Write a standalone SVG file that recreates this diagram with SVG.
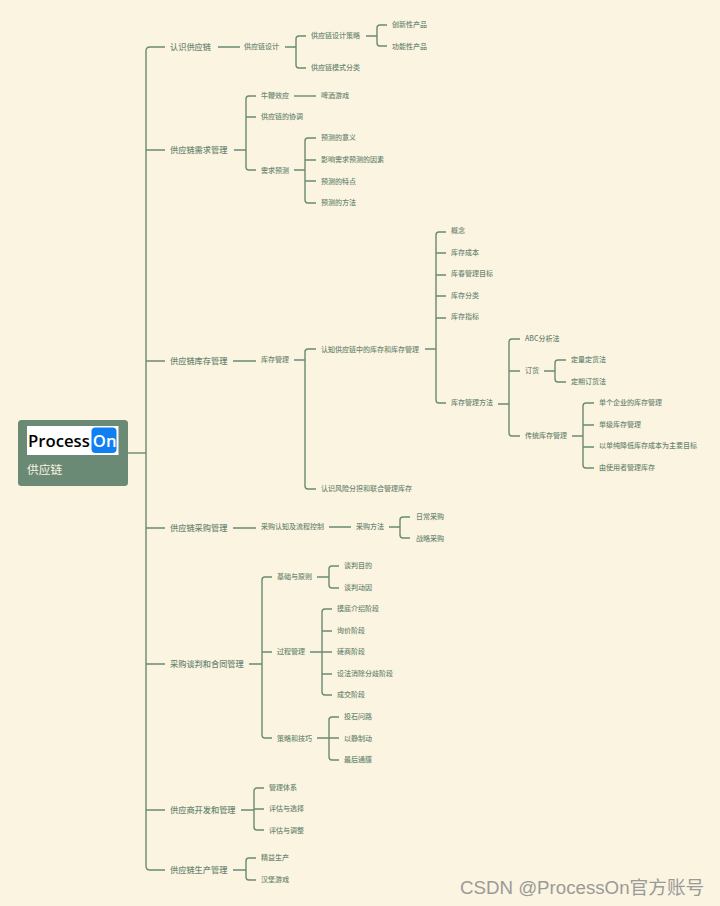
<svg xmlns="http://www.w3.org/2000/svg" width="720" height="906" viewBox="0 0 720 906">
<style>
text{font-family:"Noto Sans CJK SC","Noto Sans",sans-serif;fill:#6c8873;font-weight:500}
.l1{font-size:8.2px}
.l2{font-size:7px}
.c{fill:none;stroke:#6b8a72;stroke-width:1.4}
</style>
<rect width="720" height="906" fill="#fbf4e1"/>
<g id="connectors" class="c">
<path d="M128 453H146"/>
<path d="M165 47H150Q146 47 146 51V866Q146 870 150 870H165"/>
<path d="M146 150H165M146 361H165M146 528H165M146 664H165M146 810H165"/>
<path d="M218 47H240M285 47H296M306 36H299Q296 36 296 39V65Q296 68 299 68H306"/>
<path d="M366 36H377M387 25H380Q377 25 377 28V43Q377 46 380 46H387"/>
<path d="M234 150H246M256 96H249Q246 96 246 99V167Q246 170 249 170H256M246 117H256"/>
<path d="M294 96H316"/>
<path d="M294 170H305M316 138H308Q305 138 305 141V200Q305 203 308 203H316M305 160H316M305 181H316"/>
<path d="M233 361H256M294 360H305M316 349H308Q305 349 305 352V486Q305 489 308 489H316"/>
<path d="M425 349H436M446 232H439Q436 232 436 235V400Q436 403 439 403H446M436 253H446M436 275H446M436 296H446M436 318H446"/>
<path d="M498 404H509M520 339H512Q509 339 509 342V433Q509 436 512 436H520M509 371H520"/>
<path d="M544 371H555M566 360H558Q555 360 555 363V379Q555 382 558 382H566"/>
<path d="M572 436H583M594 403H586Q583 403 583 406V465Q583 468 586 468H594M583 425H594M583 447H594"/>
<path d="M233 528H256M329 527H351M389 527H400M410 517H403Q400 517 400 520V535Q400 538 403 538H410"/>
<path d="M249 664H262M272 577H265Q262 577 262 580V735Q262 738 265 738H272M262 652H272"/>
<path d="M317 577H329M339 566H332Q329 566 329 569V585Q329 588 332 588H339"/>
<path d="M310 652H322M332 609H325Q322 609 322 612V692Q322 695 325 695H332M322 631H332M322 652H332M322 674H332"/>
<path d="M317 738H329M339 717H332Q329 717 329 720V757Q329 760 332 760H339M329 738H339"/>
<path d="M241 810H254M264 788H257Q254 788 254 791V827Q254 830 257 830H264M254 809H264"/>
<path d="M233 870H246M256 858H249Q246 858 246 861V877Q246 880 249 880H256"/>
</g>
<g id="root">
<rect x="18" y="420" width="110" height="66" rx="3.500" fill="#6b8a75"/>
<rect x="27" y="426" width="91.500" height="29" fill="#fff"/>
<rect x="91.500" y="427.500" width="25" height="25.500" rx="4" fill="#0f7ff2"/>
<text x="28" y="447" style="font-family:'Open Sans',sans-serif;font-size:16.700px;font-weight:600;fill:#000">Process</text>
<text x="92.800" y="447" style="font-family:'Open Sans',sans-serif;font-size:16.700px;font-weight:600;fill:#fff">On</text>
<text x="27" y="474" style="font-size:11.700px;font-weight:400;fill:#fbf4e1">供应链</text>
</g>
<g id="n1"><text class="l1" x="170" y="50">认识供应链</text></g>
<g id="n2"><text class="l1" x="170" y="153">供应链需求管理</text></g>
<g id="n3"><text class="l1" x="170" y="364">供应链库存管理</text></g>
<g id="n4"><text class="l1" x="170" y="531">供应链采购管理</text></g>
<g id="n5"><text class="l1" x="170" y="667">采购谈判和合同管理</text></g>
<g id="n6"><text class="l1" x="170" y="813">供应商开发和管理</text></g>
<g id="n7"><text class="l1" x="170" y="873">供应链生产管理</text></g>
<g id="n1-items">
<g id="a1"><text class="l2" x="244" y="49">供应链设计</text></g>
<g id="a2"><text class="l2" x="311" y="38">供应链设计策略</text></g>
<g id="a3"><text class="l2" x="311" y="70">供应链模式分类</text></g>
<g id="a4"><text class="l2" x="392" y="27">创新性产品</text></g>
<g id="a5"><text class="l2" x="392" y="49">功能性产品</text></g>
</g>
<g id="n2-items">
<g id="b1"><text class="l2" x="261" y="98">牛鞭效应</text></g>
<g id="b2"><text class="l2" x="321" y="98">啤酒游戏</text></g>
<g id="b3"><text class="l2" x="261" y="119">供应链的协调</text></g>
<g id="b4"><text class="l2" x="261" y="173">需求预测</text></g>
<g id="b5"><text class="l2" x="321" y="140">预测的意义</text></g>
<g id="b6"><text class="l2" x="321" y="162">影响需求预测的因素</text></g>
<g id="b7"><text class="l2" x="321" y="184">预测的特点</text></g>
<g id="b8"><text class="l2" x="321" y="205">预测的方法</text></g>
</g>
<g id="n3-items">
<g id="c1"><text class="l2" x="261" y="362">库存管理</text></g>
<g id="c2"><text class="l2" x="321" y="352">认知供应链中的库存和库存管理</text></g>
<g id="c3"><text class="l2" x="321" y="491">认识风险分担和联合管理库存</text></g>
<g id="c4"><text class="l2" x="451" y="233">概念</text></g>
<g id="c5"><text class="l2" x="451" y="255">库存成本</text></g>
<g id="c6"><text class="l2" x="451" y="276">库春管理目标</text></g>
<g id="c7"><text class="l2" x="451" y="298">库存分类</text></g>
<g id="c8"><text class="l2" x="451" y="319">库存指标</text></g>
<g id="c9"><text class="l2" x="451" y="405">库存管理方法</text></g>
<g id="c10"><text class="l2" x="525" y="341">ABC分析法</text></g>
<g id="c11"><text class="l2" x="525" y="373">订货</text></g>
<g id="c12"><text class="l2" x="525" y="438">传统库存管理</text></g>
<g id="c13"><text class="l2" x="571" y="362">定量定货法</text></g>
<g id="c14"><text class="l2" x="571" y="384">定期订货法</text></g>
<g id="c15"><text class="l2" x="599" y="405">单个企业的库存管理</text></g>
<g id="c16"><text class="l2" x="599" y="427">单级库存管理</text></g>
<g id="c17"><text class="l2" x="599" y="448">以单纯降低库存成本为主要目标</text></g>
<g id="c18"><text class="l2" x="599" y="470">由使用者管理库存</text></g>
</g>
<g id="n4-items">
<g id="d1"><text class="l2" x="261" y="529">采购认知及流程控制</text></g>
<g id="d2"><text class="l2" x="356" y="529">采购方法</text></g>
<g id="d3"><text class="l2" x="416" y="519">日常采购</text></g>
<g id="d4"><text class="l2" x="416" y="541">战略采购</text></g>
</g>
<g id="n5-items">
<g id="e1"><text class="l2" x="277" y="579">基础与原则</text></g>
<g id="e2"><text class="l2" x="277" y="654">过程管理</text></g>
<g id="e3"><text class="l2" x="277" y="741">策略和技巧</text></g>
<g id="e4"><text class="l2" x="344" y="568">谈判目的</text></g>
<g id="e5"><text class="l2" x="344" y="590">谈判动因</text></g>
<g id="e6"><text class="l2" x="337" y="611">摸底介绍阶段</text></g>
<g id="e7"><text class="l2" x="337" y="633">询价阶段</text></g>
<g id="e8"><text class="l2" x="337" y="654">磋商阶段</text></g>
<g id="e9"><text class="l2" x="337" y="676">设法消除分歧阶段</text></g>
<g id="e10"><text class="l2" x="337" y="697">成交阶段</text></g>
<g id="e11"><text class="l2" x="344" y="719">投石问路</text></g>
<g id="e12"><text class="l2" x="344" y="741">以静制动</text></g>
<g id="e13"><text class="l2" x="344" y="762">最后通牒</text></g>
</g>
<g id="n6-items">
<g id="f1"><text class="l2" x="269" y="790">管理体系</text></g>
<g id="f2"><text class="l2" x="269" y="811">评估与选择</text></g>
<g id="f3"><text class="l2" x="269" y="833">评估与调整</text></g>
</g>
<g id="n7-items">
<g id="g1"><text class="l2" x="261" y="860">精益生产</text></g>
<g id="g2"><text class="l2" x="261" y="882">汉堡游戏</text></g>
</g>
<text x="460" y="894" style="font-family:'Liberation Sans','Noto Sans CJK SC',sans-serif;font-size:18.700px;font-weight:400;fill:#9a9a98">CSDN @ProcessOn官方账号</text>
</svg>
